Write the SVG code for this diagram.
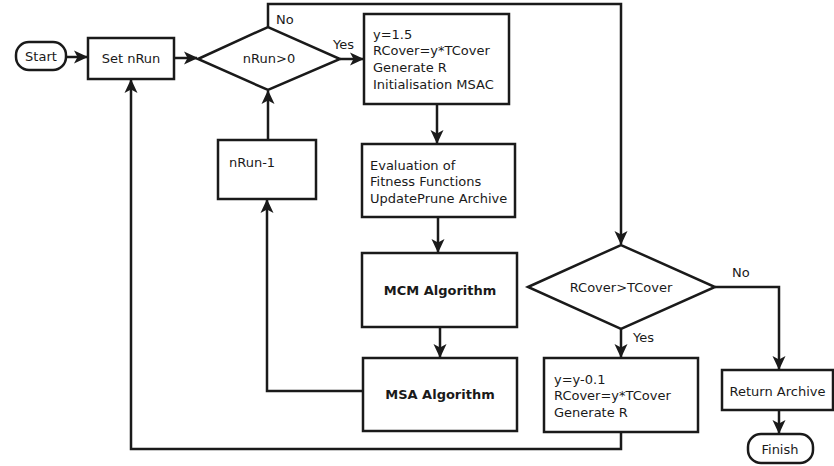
<svg xmlns="http://www.w3.org/2000/svg" width="834" height="466" viewBox="0 0 834 466">
  <style>
    .box { fill: #ffffff; stroke: #1a1a1a; stroke-width: 2.5; }
    .edge { fill: none; stroke: #1a1a1a; stroke-width: 2.5; }
    text { font-family: "DejaVu Sans", Verdana, sans-serif; font-size: 13px; fill: #1a1a1a; }
    .c { text-anchor: middle; }
    .b { font-weight: bold; }
  </style>
  <defs>
    <marker id="arrow" markerUnits="userSpaceOnUse" markerWidth="16" markerHeight="16" viewBox="0 0 16 16" refX="14" refY="8" orient="auto">
      <path d="M1,1.5 L15,8 L1,14.5 L4.5,8 Z" fill="#1a1a1a"/>
    </marker>
  </defs>
  <rect width="834" height="466" fill="#ffffff"/>

  <g id="connectors">
    <path class="edge" d="M66,57 H87" marker-end="url(#arrow)"/>
    <path class="edge" d="M174,58 H197" marker-end="url(#arrow)"/>
    <path class="edge" d="M268,27 V4 H621 V244" marker-end="url(#arrow)"/>
    <path class="edge" d="M340,59 H363" marker-end="url(#arrow)"/>
    <path class="edge" d="M437,104 V143" marker-end="url(#arrow)"/>
    <path class="edge" d="M438,217 V252" marker-end="url(#arrow)"/>
    <path class="edge" d="M440,327 V357" marker-end="url(#arrow)"/>
    <path class="edge" d="M362,391 H267 V200" marker-end="url(#arrow)"/>
    <path class="edge" d="M268,140 V91" marker-end="url(#arrow)"/>
    <path class="edge" d="M621,329 V357" marker-end="url(#arrow)"/>
    <path class="edge" d="M621,432 V449 H131 V80" marker-end="url(#arrow)"/>
    <path class="edge" d="M715,287 H779 V369" marker-end="url(#arrow)"/>
    <path class="edge" d="M779,410 V433" marker-end="url(#arrow)"/>
    <text x="276" y="23.5">No</text>
    <text x="333" y="48.5">Yes</text>
    <text x="732" y="276.5">No</text>
    <text x="633" y="341.5">Yes</text>
  </g>

  <g id="start">
    <rect class="box" x="16" y="42" width="50" height="28" rx="13"/>
    <text class="c" x="41" y="60.5">Start</text>
  </g>
  <g id="set-nrun">
    <rect class="box" x="88" y="38" width="86" height="41"/>
    <text class="c" x="131" y="63">Set nRun</text>
  </g>
  <g id="check-nrun">
    <polygon class="box" points="198,59 268,27 340,59 268,90"/>
    <text class="c" x="269" y="63">nRun&gt;0</text>
  </g>
  <g id="init">
    <rect class="box" x="364" y="14" width="145" height="90"/>
    <text x="373" y="38.5">y=1.5</text>
    <text x="373" y="55">RCover=y*TCover</text>
    <text x="373" y="72">Generate R</text>
    <text x="373" y="89">Initialisation MSAC</text>
  </g>
  <g id="evaluation">
    <rect class="box" x="362" y="144" width="153" height="73"/>
    <text x="370" y="169.5">Evaluation of</text>
    <text x="370" y="186">Fitness Functions</text>
    <text x="370" y="203">UpdatePrune Archive</text>
  </g>
  <g id="mcm">
    <rect class="box" x="362" y="253" width="155" height="74"/>
    <text class="c b" x="440" y="294.5">MCM Algorithm</text>
  </g>
  <g id="msa">
    <rect class="box" x="363" y="358" width="154" height="73"/>
    <text class="c b" x="440" y="398.5">MSA Algorithm</text>
  </g>
  <g id="decrement">
    <rect class="box" x="218" y="140" width="98" height="59"/>
    <text x="229" y="166.5">nRun-1</text>
  </g>
  <g id="check-cover">
    <polygon class="box" points="528,287 621,245 715,287 621,329"/>
    <text class="c" x="621" y="291.5">RCover&gt;TCover</text>
  </g>
  <g id="update">
    <rect class="box" x="544" y="358" width="154" height="74"/>
    <text x="554" y="383.5">y=y-0.1</text>
    <text x="554" y="400">RCover=y*TCover</text>
    <text x="554" y="417">Generate R</text>
  </g>
  <g id="return-archive">
    <rect class="box" x="722" y="370" width="111" height="40"/>
    <text class="c" x="777.5" y="395.5">Return Archive</text>
  </g>
  <g id="finish">
    <rect class="box" x="748" y="434" width="65" height="29" rx="13"/>
    <text class="c" x="780" y="453.5">Finish</text>
  </g>
</svg>
